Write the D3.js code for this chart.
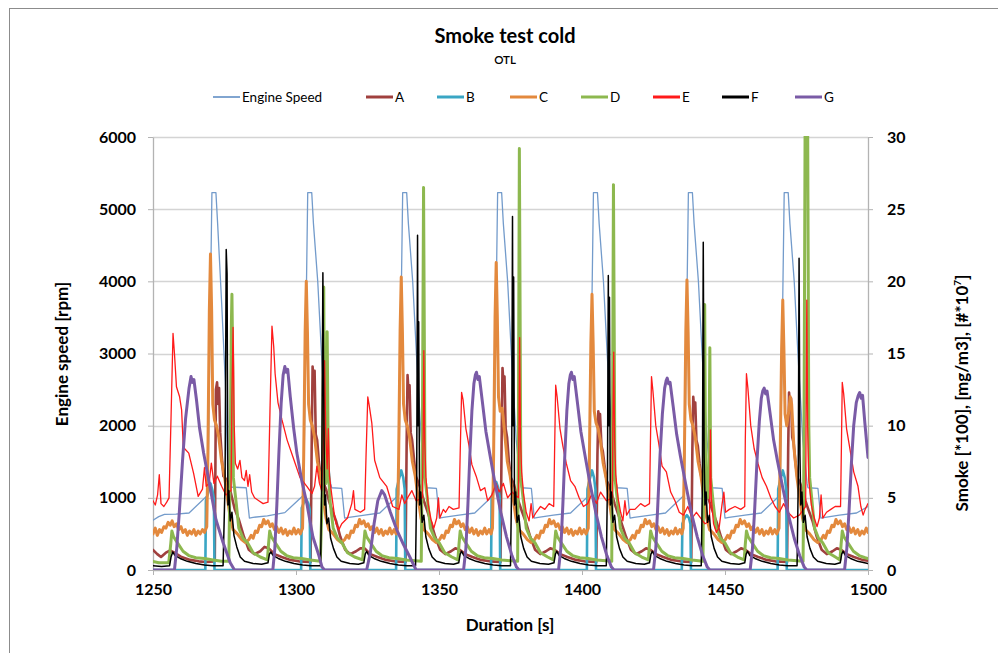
<!DOCTYPE html>
<html>
<head>
<meta charset="utf-8">
<script src="https://cdn.jsdelivr.net/npm/d3@7"></script>
<style>
  html, body { margin: 0; padding: 0; background: #fff; }
  #container { width: 998px; height: 653px; }
</style>
</head>
<body>
<div id="container"></div>
<script>
// tick labels
const xTicks = [1250, 1300, 1350, 1400, 1450, 1500];
const leftTicks = [0, 1000, 2000, 3000, 4000, 5000, 6000];
const rightTicks = [0, 5, 10, 15, 20, 25, 30];
const seriesNames = ["Engine Speed", "A", "B", "C", "D", "E", "F", "G"];

// [time s, rpm]
const engineSpeed = [[1250,690],[1252,740],[1254,770],[1258,775],[1262.6,790],[1269.2,1040],[1270.0,3500],[1270.6,5230],[1272.0,5230],[1272.6,4800],[1274.0,3700],[1275.3,2600],[1276.2,1250],[1276.5,1150],[1282.6,1140],[1283.7,720],[1285,730],[1290,750],[1296.1,795],[1302.7,1040],[1303.5,3500],[1304.1,5230],[1305.5,5230],[1306.1,4800],[1307.6,4000],[1308.9,3000],[1310.6,1800],[1312.1,1200],[1312.5,1140],[1316.0,1130],[1317.0,720],[1318.5,730],[1324,760],[1329.3,790],[1335.9,1040],[1336.7,3500],[1337.3,5230],[1338.7,5230],[1339.3,4800],[1340.8,4000],[1342.1,3000],[1343.8,1800],[1345.3,1200],[1345.6,1140],[1349.1,1130],[1350.1,720],[1351.5,730],[1357,760],[1362.5,790],[1369.1,1040],[1369.9,3500],[1370.5,5230],[1371.9,5230],[1372.5,4800],[1374.0,4000],[1375.3,3000],[1377.0,1800],[1378.5,1200],[1378.8,1140],[1382.3,1130],[1383.3,720],[1384.7,730],[1390,760],[1396.0,790],[1402.6,1040],[1403.4,3500],[1404.0,5230],[1405.4,5230],[1406.0,4800],[1407.5,4000],[1408.8,3000],[1410.5,1800],[1412.0,1200],[1412.3,1140],[1415.8,1130],[1416.8,720],[1418.2,730],[1424,760],[1429.2,790],[1435.8,1040],[1436.6,3500],[1437.2,5230],[1438.6,5230],[1439.2,4800],[1440.7,4000],[1442.0,3000],[1443.7,1800],[1445.2,1200],[1445.5,1140],[1449.0,1130],[1450.0,720],[1451.4,730],[1457,760],[1462.7,790],[1469.3,1040],[1470.1,3500],[1470.7,5230],[1472.1,5230],[1472.7,4800],[1474.2,4000],[1475.5,3000],[1477.2,1800],[1478.7,1200],[1479.0,1140],[1482.5,1130],[1483.5,720],[1485,730],[1490,760],[1496,790],[1500,880]];

// smoke series, [time s, value on right axis]
const seriesA = [[1250,1.4],[1251.5,1.1],[1252.8,0.9],[1254.5,1.2],[1256,1.35],[1257.5,1.2],[1260,0.9],[1263,0.7],[1266,0.6],[1268.5,0.55],[1271.6,0.6],[1272.0,12.5],[1272.4,13.0],[1272.8,11.5],[1273.1,12.6],[1273.5,9.5],[1274.0,8.0],[1274.6,6.5],[1275.6,6.3],[1276.4,6.0],[1277.4,5.2],[1278.6,4.2],[1280,3.5],[1281.8,2.3],[1283.5,1.4],[1285.5,1.1],[1287.5,1.3],[1289.0,1.6],[1290.5,1.5],[1292.5,1.1],[1295,0.9],[1298,0.7],[1301,0.6],[1305.1,0.55],[1305.5,9],[1305.8,14.1],[1306.2,13.0],[1306.5,13.8],[1306.9,9.4],[1307.4,9.0],[1308.0,7.5],[1308.7,6.3],[1309.7,6.0],[1310.5,5.6],[1311.5,4.8],[1312.7,4.1],[1314,3.4],[1315.5,2.3],[1317.2,1.4],[1319,1.1],[1321,1.3],[1322.5,1.5],[1324,1.5],[1326,1.1],[1328.5,0.9],[1331.5,0.7],[1334.5,0.6],[1338.3,0.55],[1338.7,9],[1339.0,13.5],[1339.4,12.2],[1339.7,12.8],[1340.1,9.5],[1340.6,9.0],[1341.2,7.8],[1341.9,6.5],[1342.9,6.0],[1343.7,5.5],[1344.7,4.8],[1345.9,4.1],[1347.2,3.3],[1348.7,2.3],[1350.4,1.4],[1352.2,1.1],[1354.2,1.3],[1355.7,1.5],[1357.2,1.4],[1359.2,1.1],[1361.7,0.9],[1364.7,0.7],[1367.7,0.6],[1371.5,0.55],[1371.9,9],[1372.2,14.0],[1372.6,12.8],[1372.9,13.4],[1373.3,9.8],[1373.8,9.2],[1374.4,7.6],[1375.1,6.4],[1376.1,6.0],[1376.9,5.4],[1377.9,4.7],[1379.1,4.0],[1380.4,3.3],[1381.9,2.3],[1383.6,1.4],[1385.4,1.1],[1387.4,1.3],[1388.9,1.5],[1390.4,1.4],[1392.4,1.1],[1394.9,0.9],[1397.9,0.7],[1400.9,0.6],[1405.0,0.55],[1405.4,8],[1405.7,11.0],[1406.0,10.2],[1406.3,10.8],[1406.8,8.6],[1407.3,8.2],[1407.9,7.2],[1408.6,6.2],[1409.6,5.8],[1410.4,5.3],[1411.4,4.6],[1412.6,3.9],[1413.9,3.2],[1415.4,2.3],[1417.1,1.4],[1418.9,1.1],[1420.9,1.3],[1422.4,1.5],[1423.9,1.4],[1425.9,1.1],[1428.4,0.9],[1431.4,0.7],[1434.4,0.6],[1438.2,0.55],[1438.6,8.5],[1438.9,12.0],[1439.3,11.0],[1439.6,11.6],[1440.0,9.0],[1440.5,8.6],[1441.1,7.4],[1441.8,6.3],[1442.8,5.9],[1443.6,5.4],[1444.6,4.7],[1445.8,4.0],[1447.1,3.3],[1448.6,2.3],[1450.3,1.4],[1452.1,1.1],[1454.1,1.3],[1455.6,1.5],[1457.1,1.4],[1459.1,1.1],[1461.6,0.9],[1464.6,0.7],[1467.6,0.6],[1471.7,0.55],[1472.1,8.5],[1472.4,12.3],[1472.8,11.2],[1473.1,11.9],[1473.5,9.2],[1474.0,8.8],[1474.6,7.5],[1475.3,6.4],[1476.3,6.0],[1477.1,5.5],[1478.1,4.8],[1479.3,4.1],[1480.6,3.4],[1482.1,2.3],[1483.8,1.4],[1485.6,1.1],[1487.6,1.3],[1489.1,1.5],[1490.6,1.4],[1492.6,1.1],[1495.1,0.9],[1498,0.7],[1500,0.65]];

const seriesB = [[1250,0],[1268.3,0],[1268.5,4.8],[1269.3,5.4],[1270.1,6.0],[1270.8,5.5],[1271.3,4.9],[1271.5,0],[1301.8,0],[1302.0,4.3],[1302.8,4.7],[1303.6,4.9],[1304.3,4.6],[1304.8,4.2],[1305.0,0],[1335.0,0],[1335.2,5.6],[1336.0,6.3],[1336.8,6.9],[1337.5,6.4],[1338.0,5.6],[1338.2,0],[1368.2,0],[1368.4,5.0],[1369.2,5.6],[1370.0,6.1],[1370.7,5.7],[1371.2,5.1],[1371.4,0],[1401.7,0],[1401.9,5.6],[1402.7,6.3],[1403.5,6.9],[1404.2,6.4],[1404.7,5.6],[1404.9,0],[1434.9,0],[1435.1,3.2],[1435.9,3.6],[1436.7,3.8],[1437.4,3.6],[1437.9,3.2],[1438.1,0],[1468.4,0],[1468.6,5.6],[1469.4,6.3],[1470.2,6.9],[1470.9,6.4],[1471.4,5.6],[1471.6,0],[1500,0]];

const seriesC = [[1250,2.5],[1250.8,2.9],[1251.5,2.4],[1252.3,2.8],[1253,2.6],[1253.8,3.0],[1254.5,2.9],[1255.3,3.3],[1256,3.1],[1256.7,3.4],[1257.4,3.0],[1258.2,3.2],[1259,2.8],[1259.8,3.0],[1260.5,2.6],[1261.3,2.8],[1262,2.4],[1262.8,2.7],[1263.5,2.5],[1264.3,2.8],[1265,2.4],[1265.8,2.7],[1266.5,2.5],[1267.3,2.8],[1268,2.6],[1268.8,3.0],
  [1269.2,8],[1269.7,18],[1270.1,21.9],[1270.5,18],[1270.9,11.5],[1271.5,10.4],[1272.2,10.0],[1273.0,9.2],[1274.0,7.5],[1275.0,6.5],[1276.0,5.0],[1277.0,3.6],[1278.0,2.8],[1279.5,2.5],[1281.0,2.1],[1282.3,1.9],[1283.5,2.1],[1284.3,2.4],[1285.0,2.2],[1285.8,2.7],[1286.5,2.6],[1287.3,3.1],[1288.0,3.0],[1288.7,3.5],[1289.4,3.2],[1290.2,3.4],[1291.0,3.0],[1291.7,3.2],[1292.5,2.8],[1293.2,3.0],[1294.0,2.6],[1294.8,2.9],[1295.5,2.5],[1296.3,2.8],[1297.0,2.4],[1297.8,2.7],[1298.5,2.5],[1299.3,2.9],[1300.0,2.5],[1300.8,2.8],[1301.5,2.5],[1302.3,2.9],
  [1302.7,8],[1303.2,16.5],[1303.6,20.0],[1304.0,16.5],[1304.4,11.5],[1305.0,10.4],[1305.7,10.0],[1306.5,9.2],[1307.5,7.5],[1308.5,6.5],[1309.5,5.0],[1310.5,3.6],[1311.5,2.8],[1313.0,2.5],[1314.5,2.1],[1315.8,1.9],[1317.0,2.1],[1317.8,2.4],[1318.5,2.2],[1319.3,2.7],[1320.0,2.6],[1320.8,3.1],[1321.5,3.0],[1322.2,3.5],[1322.9,3.2],[1323.7,3.4],[1324.5,3.0],[1325.2,3.2],[1326.0,2.8],[1326.7,3.0],[1327.5,2.6],[1328.3,2.9],[1329.0,2.5],[1329.8,2.8],[1330.5,2.4],[1331.3,2.7],[1332.0,2.5],[1332.8,2.9],[1333.5,2.5],[1334.3,2.8],[1335.0,2.5],[1335.5,2.9],
  [1335.9,8],[1336.4,16.6],[1336.8,20.3],[1337.2,16.6],[1337.6,11.5],[1338.2,10.4],[1338.9,10.0],[1339.7,9.2],[1340.7,7.5],[1341.7,6.5],[1342.7,5.0],[1343.7,3.6],[1344.7,2.8],[1346.2,2.5],[1347.7,2.1],[1349.0,1.9],[1350.2,2.1],[1351.0,2.4],[1351.7,2.2],[1352.5,2.7],[1353.2,2.6],[1354.0,3.1],[1354.7,3.0],[1355.4,3.5],[1356.1,3.2],[1356.9,3.4],[1357.7,3.0],[1358.4,3.2],[1359.2,2.8],[1359.9,3.0],[1360.7,2.6],[1361.5,2.9],[1362.2,2.5],[1363.0,2.8],[1363.7,2.4],[1364.5,2.7],[1365.2,2.5],[1366.0,2.9],[1366.7,2.5],[1367.5,2.8],[1368.2,2.5],[1368.7,2.9],
  [1369.1,8],[1369.6,17.5],[1370.0,21.3],[1370.4,17.5],[1370.8,12],[1371.4,11.0],[1372.1,11.2],[1372.9,9.6],[1373.9,7.5],[1374.9,6.5],[1375.9,5.0],[1376.9,3.6],[1377.9,2.8],[1379.4,2.5],[1380.9,2.1],[1382.2,1.9],[1383.4,2.1],[1384.2,2.4],[1384.9,2.2],[1385.7,2.7],[1386.4,2.6],[1387.2,3.1],[1387.9,3.0],[1388.6,3.5],[1389.3,3.2],[1390.1,3.4],[1390.9,3.0],[1391.6,3.2],[1392.4,2.8],[1393.1,3.0],[1393.9,2.6],[1394.7,2.9],[1395.4,2.5],[1396.2,2.8],[1396.9,2.4],[1397.7,2.7],[1398.4,2.5],[1399.2,2.9],[1399.9,2.5],[1400.7,2.8],[1401.4,2.5],[1402.2,2.9],
  [1402.6,8],[1403.1,15.7],[1403.5,19.1],[1403.9,15.7],[1404.3,11.0],[1404.9,10.2],[1405.6,9.8],[1406.4,9.0],[1407.4,7.4],[1408.4,6.4],[1409.4,5.0],[1410.4,3.6],[1411.4,2.8],[1412.9,2.5],[1414.4,2.1],[1415.7,1.9],[1416.9,2.1],[1417.7,2.4],[1418.4,2.2],[1419.2,2.7],[1419.9,2.6],[1420.7,3.1],[1421.4,3.0],[1422.1,3.5],[1422.8,3.2],[1423.6,3.4],[1424.4,3.0],[1425.1,3.2],[1425.9,2.8],[1426.6,3.0],[1427.4,2.6],[1428.2,2.9],[1428.9,2.5],[1429.7,2.8],[1430.4,2.4],[1431.2,2.7],[1431.9,2.5],[1432.7,2.9],[1433.4,2.5],[1434.2,2.8],[1434.9,2.5],[1435.4,2.9],
  [1435.8,8],[1436.3,16.5],[1436.7,20.1],[1437.1,16.5],[1437.5,11.5],[1438.1,10.4],[1438.8,10.0],[1439.6,9.2],[1440.6,7.5],[1441.6,6.5],[1442.6,5.0],[1443.6,3.6],[1444.6,2.8],[1446.1,2.5],[1447.6,2.1],[1448.9,1.9],[1450.1,2.1],[1450.9,2.4],[1451.6,2.2],[1452.4,2.7],[1453.1,2.6],[1453.9,3.1],[1454.6,3.0],[1455.3,3.5],[1456.0,3.2],[1456.8,3.4],[1457.6,3.0],[1458.3,3.2],[1459.1,2.8],[1459.8,3.0],[1460.6,2.6],[1461.4,2.9],[1462.1,2.5],[1462.9,2.8],[1463.6,2.4],[1464.4,2.7],[1465.1,2.5],[1465.9,2.9],[1466.6,2.5],[1467.4,2.8],[1468.1,2.5],[1468.9,2.9],
  [1469.3,8],[1469.8,15.3],[1470.2,18.7],[1470.6,15.3],[1471.0,10.8],[1471.6,10.0],[1472.3,11.0],[1472.8,12.0],[1473.3,11.5],[1474.1,8.5],[1475.1,6.5],[1476.1,5.0],[1477.1,3.6],[1478.1,2.8],[1479.6,2.5],[1481.1,2.1],[1482.4,1.9],[1483.6,2.1],[1484.4,2.4],[1485.1,2.2],[1485.9,2.7],[1486.6,2.6],[1487.4,3.1],[1488.1,3.0],[1488.8,3.5],[1489.5,3.2],[1490.3,3.4],[1491.1,3.0],[1491.8,3.2],[1492.6,2.8],[1493.3,3.0],[1494.1,2.6],[1494.9,2.9],[1495.6,2.5],[1496.4,2.8],[1497.1,2.4],[1497.9,2.7],[1498.6,2.5],[1499.4,2.9],[1500,2.6]];

const seriesD = [[1250,0.6],[1252,0.5],[1255.5,0.5],[1256.2,1.8],[1256.6,2.7],[1257.2,2.3],[1258.5,1.9],[1260.5,1.3],[1262.5,1.0],[1265,0.85],[1268,0.8],[1271,0.7],[1274,0.6],[1276.5,0.6],[1276.9,6],[1277.4,17],[1277.6,19.1],[1277.9,14],[1278.1,6.4],[1279.0,4.8],[1280.0,2.9],[1281.5,2.2],[1283,1.9],[1285,1.2],[1287.5,0.9],[1290.0,0.7],[1290.4,1.8],[1290.8,2.7],[1291.4,2.3],[1292.7,1.9],[1294.7,1.3],[1296.7,1.0],[1299,0.85],[1302,0.8],[1305,0.7],[1308.5,0.6],
  [1309.3,6],[1309.7,19.6],[1310.0,8],[1310.5,6],[1310.9,16.5],[1311.3,7],[1312.0,4.6],[1313.0,2.9],[1314.5,2.2],[1316,1.9],[1318,1.2],[1320.5,0.9],[1323.3,0.7],[1323.7,1.8],[1324.1,2.7],[1324.7,2.3],[1326,1.9],[1328,1.3],[1330,1.0],[1332.5,0.85],[1335.5,0.8],[1338.5,0.7],[1343.8,0.6],
  [1344.2,10],[1344.6,26.5],[1344.9,15],[1345.1,6.4],[1346.0,4.8],[1347.0,2.9],[1348.5,2.2],[1350,1.9],[1352,1.2],[1354.5,0.9],[1356.6,0.7],[1357.0,1.8],[1357.4,2.7],[1358.0,2.3],[1359.3,1.9],[1361.3,1.3],[1363.3,1.0],[1365.8,0.85],[1368.8,0.8],[1372,0.7],[1377.5,0.6],
  [1377.8,12],[1378.1,29.2],[1378.4,16],[1378.6,6.4],[1379.5,4.8],[1380.5,2.9],[1382,2.2],[1383.5,1.9],[1385.5,1.2],[1388,0.9],[1390.0,0.7],[1390.4,1.8],[1390.8,2.7],[1391.4,2.3],[1392.7,1.9],[1394.7,1.3],[1396.7,1.0],[1399.2,0.85],[1402.2,0.8],[1405.2,0.7],[1410.4,0.6],
  [1410.7,12],[1411.0,26.7],[1411.3,15],[1411.5,6.4],[1412.4,4.8],[1413.4,2.9],[1414.9,2.2],[1416.4,1.9],[1418.4,1.2],[1420.9,0.9],[1423.2,0.7],[1423.6,1.8],[1424.0,2.7],[1424.6,2.3],[1425.9,1.9],[1427.9,1.3],[1429.9,1.0],[1432.4,0.85],[1435.4,0.8],[1438.4,0.7],[1442.3,0.6],
  [1442.6,8],[1442.9,18.4],[1443.2,7],[1443.9,5],[1444.4,8],[1444.7,15.4],[1445.0,6.4],[1445.9,4.6],[1446.9,2.9],[1448.4,2.2],[1449.9,1.9],[1451.9,1.2],[1454.4,0.9],[1456.7,0.7],[1457.1,1.8],[1457.5,2.7],[1458.1,2.3],[1459.4,1.9],[1461.4,1.3],[1463.4,1.0],[1465.9,0.85],[1468.9,0.8],[1472,0.7],[1477.3,0.6],
  [1477.6,8],[1478.0,30.5],[1478.9,31],[1479.3,10],[1479.6,6.4],[1480.4,4.8],[1481.3,2.9],[1482.7,2.2],[1484.1,1.9],[1486.1,1.2],[1488.6,0.9],[1490.2,0.7],[1490.6,1.8],[1491.0,2.7],[1491.6,2.3],[1492.9,1.9],[1494.9,1.3],[1496.9,1.0],[1499,0.85],[1500,0.8]];

const seriesE = [[1250,4.8],[1250.8,4.5],[1251.6,5.2],[1252.2,6.6],[1252.8,4.6],[1253.8,4.4],[1254.8,4.7],[1255.6,5.0],[1256.3,10.5],[1257.0,16.4],[1257.5,15.0],[1258.2,12.7],[1259.3,12.0],[1260.0,11.1],[1260.6,8.5],[1262.5,8.1],[1264.2,6.7],[1265.8,5.1],[1267.3,5.6],[1268.0,7.1],[1268.6,5.8],[1269.6,6.0],[1270.4,7.4],[1271.3,6.0],[1272.5,6.5],[1274,5.8],[1275.5,5.2],[1277.3,5.5],[1277.6,12],[1278.0,16.8],[1278.4,10],[1278.8,7.4],[1279.6,7.0],[1280.4,7.6],[1281.1,6.4],[1282.0,6.2],[1282.6,6.9],[1283.2,5.8],[1283.8,6.6],[1284.5,5.4],[1285.5,5.0],[1287,4.8],[1288.5,4.6],[1290.2,4.7],[1290.9,11],[1291.6,16.9],[1292.2,15.5],[1292.7,13.6],[1293.7,11.6],[1295.1,10.4],[1296.9,9.0],[1299.0,7.8],[1301.4,6.4],[1303.8,5.8],[1305.6,5.3],[1306.5,5.8],[1307.3,7.2],[1308.2,6.0],[1309.0,5.5],[1309.6,9],[1310.0,14.5],[1310.4,9.5],[1310.9,7.0],[1311.3,9.8],[1311.7,6.5],[1312.5,5.2],[1313.3,4.0],[1314.0,3.2],[1315.0,2.8],[1316,3.2],[1318,3.6],[1319.5,4.6],[1320.1,5.5],[1320.6,4.2],[1322.5,4.0],[1324.0,4.2],[1324.5,8],[1325.1,12.0],[1325.6,11.4],[1326.5,10.2],[1327.5,7.6],[1329.3,6.4],[1331.7,5.8],[1333.8,4.4],[1336.0,4.2],[1337.0,5.2],[1338.0,4.6],[1339,5.0],[1340.5,5.5],[1342.0,4.8],[1344.2,5],[1344.5,10],[1344.7,15.2],[1345.0,9],[1345.4,6.5],[1346.2,4.6],[1347.2,3.5],[1348.2,2.9],[1349.2,3.6],[1349.8,5.0],[1350.3,3.6],[1351.5,4.2],[1352.3,4.0],[1353.5,4.4],[1355,4.2],[1357.0,4.3],[1357.4,8],[1357.9,12.3],[1358.4,11.8],[1359.4,9.8],[1360.5,8.6],[1361.5,7.3],[1363,6.5],[1364.5,5.5],[1366.0,5.7],[1367.0,4.8],[1368.5,5.2],[1370,6.0],[1371.0,5.4],[1372.5,6.0],[1374.0,5.0],[1375.5,5.4],[1377.8,5],[1378.0,11],[1378.2,16.1],[1378.5,9],[1378.9,6.8],[1379.6,5.2],[1380.5,4.0],[1381.5,3.4],[1382.2,4.6],[1382.8,3.6],[1384,4.0],[1385.5,4.4],[1387,4.2],[1388.5,4.6],[1390.1,4.4],[1390.4,8],[1390.8,12.8],[1391.3,12.0],[1392.3,9.8],[1393.3,8.6],[1394.5,7.4],[1396,6.2],[1397.5,5.8],[1399,5.0],[1400.5,4.4],[1402,4.6],[1403.5,5.3],[1405,4.6],[1406.5,5.4],[1408.5,4.8],[1410.6,5.0],[1410.8,10],[1411.1,15.1],[1411.4,9],[1411.8,6.6],[1412.6,5.0],[1413.5,4.0],[1414.3,3.4],[1415.0,4.8],[1415.6,3.8],[1416.8,4.2],[1418.5,4.2],[1420.5,4.6],[1422,4.4],[1423.6,4.6],[1423.9,8.5],[1424.3,13.4],[1424.8,12.4],[1425.8,10.0],[1426.8,8.8],[1428,7.2],[1429.5,6.8],[1431,5.4],[1432.5,4.8],[1434,4.0],[1435.5,3.8],[1437,4.4],[1438.5,3.6],[1440,4.0],[1441.5,3.6],[1443.0,3.2],[1444.6,3.4],[1444.9,9.7],[1445.2,5],[1446,3.2],[1447,2.6],[1448,3.0],[1449,4.6],[1449.6,5.4],[1450.2,4.0],[1451.5,4.2],[1453.5,4.4],[1455.5,4.2],[1456.9,4.4],[1457.1,9],[1457.5,13.6],[1458.0,12.6],[1459.0,10.0],[1460.2,8.4],[1461.5,7.4],[1463,6.4],[1464.5,5.8],[1466,5.0],[1467.5,4.4],[1469,4.0],[1470.5,4.6],[1472,4.0],[1474,3.6],[1476,3.8],[1478.2,4.4],[1478.4,12],[1478.6,18.7],[1478.9,10],[1479.3,6.2],[1480.2,4.5],[1481.2,3.6],[1482.2,3.0],[1483.0,3.6],[1483.6,5.2],[1484.2,3.6],[1485.5,4.0],[1487,4.2],[1488.5,4.4],[1490.4,4.4],[1490.7,8.5],[1491.0,13.0],[1491.5,12.2],[1492.5,9.8],[1493.5,8.6],[1495,6.8],[1496.5,5.8],[1497.5,4.4],[1498.3,3.8],[1499,4.2],[1500,4.6]];

const seriesF = [[1250,0.3],[1253,0.25],[1255.8,0.3],[1256.3,0.9],[1256.9,1.25],[1257.7,1.0],[1259.5,0.8],[1262,0.6],[1265,0.45],[1268,0.35],[1271,0.3],[1274.5,0.3],[1275.2,6],[1275.6,22.2],[1275.9,20.5],[1276.2,4.5],[1276.5,5.5],[1277.0,3.4],[1277.6,4.0],[1278.3,2.4],[1279.3,1.6],[1280.5,0.9],[1282,0.6],[1285,0.45],[1288,0.4],[1290.2,0.5],[1290.7,1.1],[1291.2,1.25],[1292,1.0],[1293.8,0.8],[1296.3,0.6],[1299.3,0.45],[1302.3,0.35],[1305.3,0.3],[1308.6,0.3],
  [1309.0,6],[1309.4,20.6],[1309.7,12],[1310.0,4.5],[1310.3,5.2],[1310.8,3.2],[1311.4,3.6],[1312.1,2.2],[1313.1,1.5],[1314.3,0.9],[1315.8,0.6],[1318.8,0.45],[1321.8,0.4],[1323.7,0.5],[1324.2,1.1],[1324.7,1.3],[1325.5,1.0],[1327.3,0.8],[1329.8,0.6],[1332.8,0.45],[1335.8,0.35],[1338.8,0.3],[1341.8,0.3],
  [1342.2,6],[1342.5,23.2],[1342.7,10],[1342.9,17.2],[1343.2,4.5],[1343.6,5.4],[1344.1,3.3],[1344.7,3.8],[1345.4,2.3],[1346.4,1.5],[1347.6,0.9],[1349.1,0.6],[1352.1,0.45],[1355.1,0.4],[1356.9,0.5],[1357.4,1.1],[1357.9,1.3],[1358.7,1.0],[1360.5,0.8],[1363,0.6],[1366,0.45],[1369,0.35],[1372,0.3],[1375.0,0.3],
  [1375.4,6],[1375.7,24.5],[1375.9,10],[1376.1,20.3],[1376.4,4.5],[1376.8,5.4],[1377.3,3.3],[1377.9,3.8],[1378.6,2.3],[1379.6,1.5],[1380.8,0.9],[1382.3,0.6],[1385.3,0.45],[1388.3,0.4],[1390.2,0.5],[1390.7,1.1],[1391.2,1.3],[1392.0,1.0],[1393.8,0.8],[1396.3,0.6],[1399.3,0.45],[1402.3,0.35],[1405.3,0.3],[1408.5,0.3],
  [1408.9,6],[1409.2,20.4],[1409.4,10],[1409.6,18.9],[1409.9,4.5],[1410.3,5.4],[1410.8,3.3],[1411.4,3.8],[1412.1,2.3],[1413.1,1.5],[1414.3,0.9],[1415.8,0.6],[1418.8,0.45],[1421.8,0.4],[1423.6,0.5],[1424.1,1.1],[1424.6,1.3],[1425.4,1.0],[1427.2,0.8],[1429.7,0.6],[1432.7,0.45],[1435.7,0.35],[1438.7,0.3],[1441.7,0.3],
  [1442.1,6],[1442.4,22.7],[1442.7,8],[1443.0,4.5],[1443.4,5.4],[1443.9,3.3],[1444.5,3.8],[1445.2,2.3],[1446.2,1.5],[1447.4,0.9],[1448.9,0.6],[1451.9,0.45],[1454.9,0.4],[1456.9,0.5],[1457.4,1.1],[1457.9,1.3],[1458.7,1.0],[1460.5,0.8],[1463,0.6],[1466,0.45],[1469,0.35],[1472,0.3],[1475.2,0.3],
  [1475.6,6],[1475.9,21.6],[1476.2,8],[1476.5,4.5],[1476.9,5.4],[1477.4,3.3],[1478.0,3.8],[1478.7,2.3],[1479.7,1.5],[1480.9,0.9],[1482.4,0.6],[1485.4,0.45],[1488.4,0.4],[1490.3,0.5],[1490.8,1.1],[1491.3,1.3],[1492.1,1.0],[1493.9,0.8],[1496.4,0.6],[1500,0.45]];

const seriesG = [[1250,0],[1257.5,0],[1258.3,1.5],[1259.2,4.0],[1260.3,7.5],[1261.4,10.5],[1262.6,12.6],[1263.3,13.4],[1263.8,13.0],[1264.3,13.2],[1265.2,11.8],[1266.3,9.8],[1267.7,8.1],[1269.9,5.8],[1272.0,3.5],[1274.5,1.9],[1277.0,0.5],[1278.5,0],
  [1291.9,0],[1292.6,1.5],[1293.3,4.5],[1294.0,8.0],[1294.8,11.5],[1295.5,13.5],[1296.1,14.1],[1296.6,13.7],[1297.1,13.9],[1298.0,12.0],[1299.2,9.8],[1300.3,8.1],[1302.0,6.2],[1303.8,4.6],[1305.9,2.3],[1308.0,1.0],[1309.1,0.2],[1310,0],
  [1324.7,0],[1326.0,1.2],[1327.3,3.2],[1328.6,4.8],[1330.0,5.5],[1331.0,5.2],[1333.0,4.0],[1335.2,2.8],[1337.5,1.8],[1339.8,0.9],[1342.0,0],
  [1358.6,0],[1359.4,1.5],[1360.1,4.5],[1360.8,8.0],[1361.5,11.0],[1362.2,12.9],[1362.7,13.5],[1363.1,13.7],[1363.6,13.2],[1364.1,13.4],[1365.2,11.6],[1366.4,9.6],[1367.7,8.1],[1369.6,6.0],[1371.6,4.0],[1373.6,2.3],[1375.5,1.0],[1377.1,0.2],[1378.0,0],
  [1391.8,0],[1392.6,1.5],[1393.3,4.5],[1394.0,8.0],[1394.7,11.0],[1395.4,12.9],[1395.9,13.5],[1396.3,13.7],[1396.8,13.2],[1397.3,13.4],[1398.4,11.6],[1399.6,9.6],[1400.9,8.1],[1402.8,6.0],[1404.8,4.0],[1406.8,2.3],[1408.7,1.0],[1410.3,0.2],[1411.2,0],
  [1425.0,0],[1425.8,1.5],[1426.5,4.5],[1427.3,8.0],[1428.1,10.8],[1428.9,12.6],[1429.4,13.1],[1429.8,13.3],[1430.3,12.9],[1430.8,13.0],[1431.9,11.3],[1433.1,9.4],[1434.4,7.9],[1436.3,5.9],[1438.3,3.9],[1440.3,2.3],[1442.2,1.0],[1443.8,0.2],[1444.7,0],
  [1458.8,0],[1459.6,1.5],[1460.4,4.3],[1461.2,7.6],[1462.0,10.3],[1462.7,11.9],[1463.2,12.4],[1463.7,12.6],[1464.2,12.2],[1464.7,12.4],[1465.8,10.8],[1467.0,9.0],[1468.3,7.6],[1470.2,5.7],[1472.2,3.8],[1474.2,2.2],[1476.1,1.0],[1477.7,0.2],[1478.6,0],
  [1491.8,0],[1492.6,1.5],[1493.4,4.2],[1494.2,7.4],[1495.0,10.0],[1495.9,11.6],[1496.6,12.1],[1497.1,12.3],[1497.6,11.9],[1498.1,12.1],[1498.9,10.2],[1500,7.8]];

document.addEventListener("DOMContentLoaded", function() {
  const container = document.getElementById("container");
  const width = 998, height = 653;
  const font = "Lato, 'Open Sans', sans-serif";

  const colors = ["#739bcb", "#a0403e", "#3aa6c4", "#e3893d", "#8db84f", "#ff1a1a", "#000000", "#7a5ba6"];
  const widths = [1.3, 2.6, 2.6, 3, 3, 1.3, 1.5, 3];

  const x = d3.scaleLinear().domain([1250, 1500]).range([153, 868]);
  const yL = d3.scaleLinear().domain([0, 6000]).range([570, 137]);
  const yR = d3.scaleLinear().domain([0, 30]).range([570, 137]);

  const svg = d3.create("svg")
      .attr("width", width)
      .attr("height", height)
      .attr("font-family", font);

  svg.append("rect").attr("width", width).attr("height", height).attr("fill", "#fff");
  // outer chart frame
  svg.append("rect")
      .attr("x", 9.5).attr("y", 8.5)
      .attr("width", 1000).attr("height", 700)
      .attr("fill", "none").attr("stroke", "#8c8c8c");

  svg.append("text")
      .attr("x", 505).attr("y", 43)
      .attr("text-anchor", "middle")
      .attr("font-size", 20).attr("font-weight", "bold")
      .text("Smoke test cold");
  svg.append("text")
      .attr("x", 505).attr("y", 64)
      .attr("text-anchor", "middle")
      .attr("font-size", 11.5).attr("font-weight", 600)
      .text("OTL");

  // gridlines
  svg.append("g")
      .attr("stroke", "#d4d4d4").attr("stroke-width", 1.3)
    .selectAll("line")
    .data(leftTicks.filter(d => d > 0))
    .join("line")
      .attr("x1", x(1250)).attr("x2", x(1500))
      .attr("y1", d => Math.round(yL(d)) + 0.5).attr("y2", d => Math.round(yL(d)) + 0.5);

  const axisColor = "#b3b3b3";
  const left = svg.append("g")
      .attr("transform", `translate(${x(1250)},0)`)
      .call(d3.axisLeft(yL).tickValues(leftTicks).tickFormat(d3.format("d")).tickSize(5).tickPadding(12).tickSizeOuter(0));
  const right = svg.append("g")
      .attr("transform", `translate(${x(1500)},0)`)
      .call(d3.axisRight(yR).tickValues(rightTicks).tickFormat(d3.format("d")).tickSize(5).tickPadding(14).tickSizeOuter(0));
  const bottom = svg.append("g")
      .attr("transform", `translate(0,${yL(0)})`)
      .call(d3.axisBottom(x).tickValues(xTicks).tickFormat(d3.format("d")).tickSize(5).tickPadding(9).tickSizeOuter(0));

  [left, right, bottom].forEach(g => {
    g.select(".domain").attr("stroke", axisColor).attr("stroke-width", 1.3);
    g.selectAll(".tick line").attr("stroke", axisColor);
    g.selectAll(".tick text")
        .attr("font-family", font).attr("font-size", 16).attr("font-weight", "bold").attr("fill", "#000");
  });

  // series
  svg.append("clipPath").attr("id", "plot")
    .append("rect").attr("x", x(1250)).attr("y", yL(6000) - 1).attr("width", x(1500) - x(1250)).attr("height", yL(0) - yL(6000) + 1);

  const lineL = d3.line().x(d => x(d[0])).y(d => yL(d[1]));
  const lineR = d3.line().x(d => x(d[0])).y(d => yR(d[1]));
  const allSeries = [engineSpeed, seriesA, seriesB, seriesC, seriesD, seriesE, seriesF, seriesG];

  svg.append("g")
      .attr("clip-path", "url(#plot)")
      .attr("fill", "none")
      .attr("stroke-linejoin", "round")
      .attr("stroke-linecap", "round")
    .selectAll("path")
    .data(allSeries)
    .join("path")
      .attr("stroke", (d, i) => colors[i])
      .attr("stroke-width", (d, i) => widths[i])
      .attr("d", (d, i) => i === 0 ? lineL(d) : lineR(d));

  // axis titles
  svg.append("text")
      .attr("transform", "translate(68,354) rotate(-90)")
      .attr("text-anchor", "middle")
      .attr("font-size", 17).attr("font-weight", "bold")
      .text("Engine speed [rpm]");
  const rt = svg.append("text")
      .attr("transform", "translate(968,393) rotate(-90)")
      .attr("text-anchor", "middle")
      .attr("font-size", 17).attr("font-weight", "bold");
  rt.append("tspan").text("Smoke [*100], [mg/m3], [#*10");
  rt.append("tspan").attr("font-size", 10).attr("dy", -7).text("7");
  rt.append("tspan").attr("dy", 7).text("]");
  svg.append("text")
      .attr("x", 510).attr("y", 631)
      .attr("text-anchor", "middle")
      .attr("font-size", 17).attr("font-weight", "bold")
      .text("Duration [s]");

  // legend
  const legendX = [213, 366, 437, 510, 581, 653, 722, 795];
  const legend = svg.append("g")
    .selectAll("g")
    .data(seriesNames)
    .join("g")
      .attr("transform", (d, i) => `translate(${legendX[i]},97)`);
  legend.append("line")
      .attr("x1", 0).attr("x2", 27)
      .attr("stroke", (d, i) => colors[i])
      .attr("stroke-width", (d, i) => i === 0 ? 1.8 : 3);
  legend.append("text")
      .attr("x", 29).attr("dy", "0.35em")
      .attr("font-size", 13.5)
      .text(d => d);

  container.append(svg.node());
});
</script>
</body>
</html>
